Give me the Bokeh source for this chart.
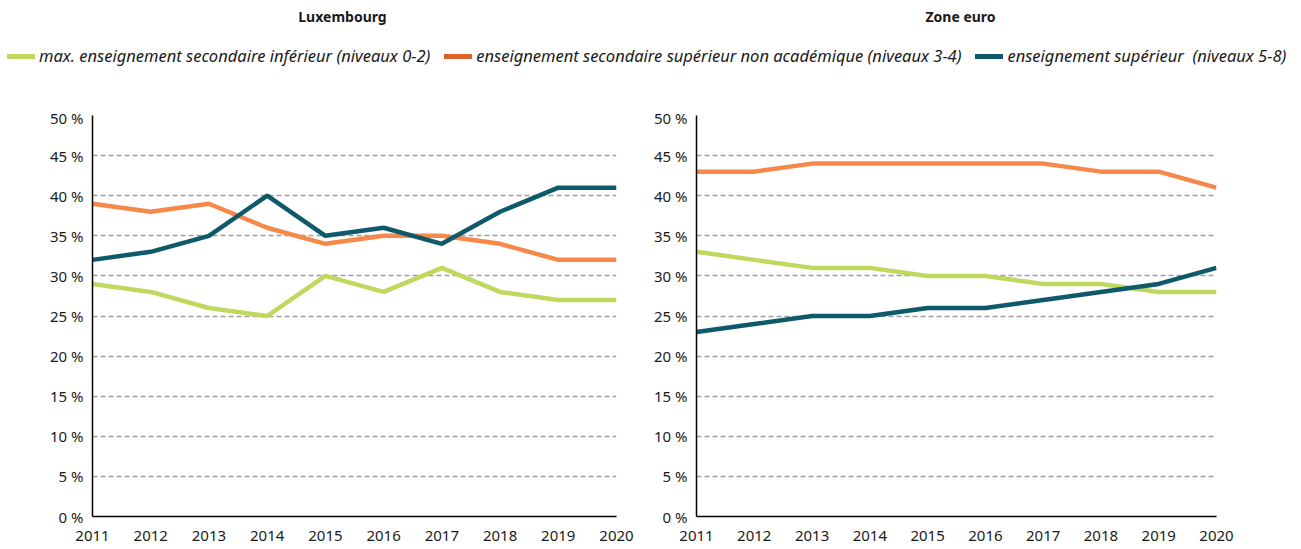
from bokeh.plotting import figure
from bokeh.layouts import column, row
from bokeh.models import (Range1d, FixedTicker, PrintfTickFormatter, Legend, LegendItem,
                          ColumnDataSource)
from bokeh.core.properties import value
from bokeh.embed import file_html
from bokeh.resources import INLINE

# ---------------- data ----------------
years = [2011, 2012, 2013, 2014, 2015, 2016, 2017, 2018, 2019, 2020]
series_labels = [
    "max. enseignement secondaire inférieur (niveaux 0-2)",
    "enseignement secondaire supérieur non académique (niveaux 3-4)",
    "enseignement supérieur  (niveaux 5-8)",
]
panel_titles = ["Luxembourg", "Zone euro"]

lux_low = [29, 28, 26, 25, 30, 28, 31, 28, 27, 27]
lux_mid = [39, 38, 39, 36, 34, 35, 35, 34, 32, 32]
lux_high = [32, 33, 35, 40, 35, 36, 34, 38, 41, 41]

ez_low = [33, 32, 31, 31, 30, 30, 29, 29, 28, 28]
ez_mid = [43, 43, 44, 44, 44, 44, 44, 43, 43, 41]
ez_high = [23, 24, 25, 25, 26, 26, 27, 28, 29, 31]

y_ticks = [0, 5, 10, 15, 20, 25, 30, 35, 40, 45, 50]

# ---------------- styles ----------------
line_colors = ["#bfd95e", "#f6884a", "#0f5a6a"]
legend_colors = ["#bfd95e", "#e0602a", "#0f5a6a"]
FONT = "Noto Sans"
TXT = "#1a1a1a"


def make_panel(width, left, right, low, mid, high):
    p = figure(width=width, height=437, x_range=Range1d(2011, 2020), y_range=Range1d(0, 50),
               min_border_left=left, min_border_right=right, min_border_top=8,
               min_border_bottom=28, output_backend="svg", toolbar_location=None)
    p.outline_line_color = None
    p.xgrid.visible = False
    p.ygrid.grid_line_color = "#9e9e9e"
    p.ygrid.grid_line_dash = "5 3"
    p.ygrid.grid_line_width = 1.5
    p.ygrid.ticker = FixedTicker(ticks=y_ticks)
    for ys, c in zip([low, mid, high], line_colors):
        p.line(years, ys, line_color=c, line_width=4.5)
    p.yaxis.ticker = FixedTicker(ticks=y_ticks)
    p.yaxis.formatter = PrintfTickFormatter(format="%d %%")
    p.xaxis.ticker = FixedTicker(ticks=years)
    for ax in (p.xaxis[0], p.yaxis[0]):
        ax.axis_line_color = "black"
        ax.axis_line_width = 1.5
        ax.major_tick_line_color = None
        ax.minor_tick_line_color = None
        ax.major_label_text_font = FONT
        ax.major_label_text_font_size = "15px"
        ax.major_label_text_color = TXT
    p.yaxis.major_label_standoff = 3
    p.xaxis.major_label_standoff = 8
    return p


left = make_panel(647, 92, 31, lux_low, lux_mid, lux_high)
right = make_panel(645, 49, 76, ez_low, ez_mid, ez_high)

# ---------------- header (titles + legend) ----------------
head = figure(width=1299, height=107, x_range=Range1d(0, 1299), y_range=Range1d(0, 107),
              x_axis_type=None, y_axis_type=None, min_border=0, output_backend="svg",
              toolbar_location=None)
head.outline_line_color = None
head.grid.visible = False
src = ColumnDataSource(dict(x=[342, 960], y=[91, 91], t=panel_titles))
head.text(x="x", y="y", text="t", source=src, text_font=value(FONT), text_font_size="14px",
          text_font_style="bold", text_align="center", text_baseline="middle", text_color=TXT)
items = []
for lab, c in zip(series_labels, legend_colors):
    r = head.line(x=[-100, -90], y=[-100, -100], line_color=c, line_width=5, line_cap="round")
    items.append(LegendItem(label=lab, renderers=[r]))
leg = Legend(items=items, orientation="horizontal", location=(7, 40), border_line_color=None,
             background_fill_alpha=0, padding=0, margin=0, spacing=14, glyph_width=28,
             label_standoff=4, label_text_font=FONT, label_text_font_style="italic",
             label_text_font_size="16.5px", label_text_color=TXT)
head.add_layout(leg)

layout = column(head, row(left, right))
open("out.html", "w").write(file_html(layout, INLINE))
